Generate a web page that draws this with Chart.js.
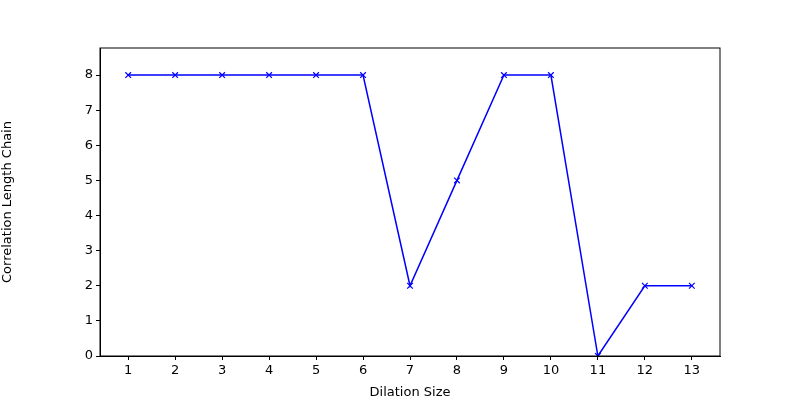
<!DOCTYPE html>
<html>
<head>
<script src="https://cdn.jsdelivr.net/npm/chart.js@4"></script>
<style>body{margin:0;background:#fff}#wrap{width:800px;height:400px}</style>
</head>
<body>
<div id="wrap"><canvas id="c"></canvas></div>
<script>
const dilationSizes = [1, 2, 3, 4, 5, 6, 7, 8, 9, 10, 11, 12, 13];
const correlationLength = [8, 8, 8, 8, 8, 8, 2, 5, 8, 8, 0, 2, 2];
const yTicks = [0, 1, 2, 3, 4, 5, 6, 7, 8];

const font = { family: 'DejaVu Sans', size: 13 };
Chart.defaults.color = '#000';

new Chart(document.getElementById('c'), {
    type: 'line',
    data: {
        datasets: [{
            data: dilationSizes.map((x, i) => ({ x: x, y: correlationLength[i] })),
            borderColor: '#0000ff',
            backgroundColor: '#0000ff',
            borderWidth: 1.5,
            pointStyle: 'crossRot',
            pointRadius: 4,
            pointBorderWidth: 1.2,
            tension: 0
        }]
    },
    options: {
        responsive: true,
        maintainAspectRatio: false,
        animation: false,
        layout: { padding: { top: 48, right: 80, left: 0, bottom: 0 } },
        plugins: { legend: { display: false }, tooltip: { enabled: false } },
        scales: {
            x: {
                type: 'linear',
                min: 0.4,
                max: 13.6,
                afterBuildTicks: s => { s.ticks = dilationSizes.map(v => ({ value: v })); },
                afterFit: s => { s.height = 44; },
                grid: { drawOnChartArea: false, color: '#000', tickLength: 4 },
                border: { color: '#000' },
                ticks: { font: font, padding: 3 },
                title: { display: true, text: 'Dilation Size', font: font, padding: 0 }
            },
            y: {
                min: 0,
                max: 8.77,
                afterBuildTicks: s => { s.ticks = yTicks.map(v => ({ value: v })); },
                afterFit: s => { s.width = 100; },
                grid: { drawOnChartArea: false, color: '#000', tickLength: 4 },
                border: { color: '#000' },
                ticks: { font: font, padding: 3 },
                title: { display: true, text: 'Correlation Length Chain', font: font, padding: 0 }
            }
        }
    },
    plugins: [{
        id: 'frame',
        afterDraw(chart) {
            const a = chart.chartArea, ctx = chart.ctx;
            ctx.save();
            ctx.strokeStyle = '#000';
            ctx.lineWidth = 1;
            ctx.strokeRect(a.left, a.top, a.right - a.left, a.bottom - a.top);
            ctx.restore();
        }
    }]
});
</script>
</body>
</html>
